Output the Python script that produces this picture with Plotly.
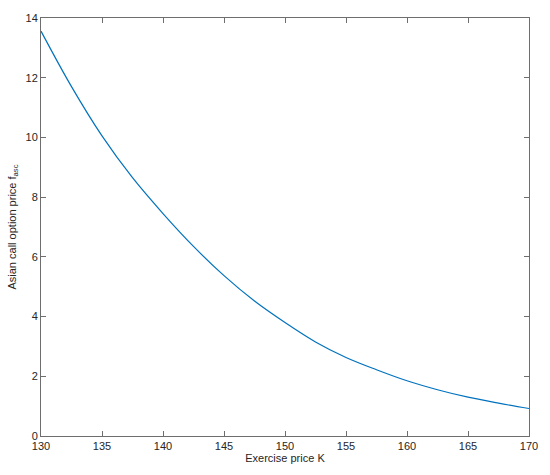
import plotly.graph_objects as go

# exercise price K and Asian call option price
strike = [130, 132.5, 135, 137.5, 140, 142.5, 145, 147.5, 150,
          152.5, 155, 157.5, 160, 162.5, 165, 167.5, 170]
price = [13.56, 11.7, 10.05, 8.65, 7.45, 6.35, 5.37, 4.52, 3.80,
         3.15, 2.63, 2.22, 1.85, 1.55, 1.30, 1.10, 0.92]

x_ticks = [130, 135, 140, 145, 150, 155, 160, 165, 170]
y_ticks = [0, 2, 4, 6, 8, 10, 12, 14]

font = dict(family="Liberation Sans, Arial", size=11, color="#262626")

fig = go.Figure()
fig.add_trace(go.Scatter(
    x=strike, y=price, mode="lines",
    line=dict(color="#0072BD", width=1.2, shape="spline"),
    showlegend=False,
))

axis_style = dict(
    showgrid=False, zeroline=False,
    showline=True, linecolor="#6e6e6e", linewidth=1, mirror="ticks",
    ticks="inside", ticklen=5, tickcolor="#6e6e6e", tickwidth=1,
    tickfont=font,
)

fig.update_xaxes(
    range=[130, 170], tickvals=x_ticks,
    title=dict(text="Exercise price K", standoff=3, font=font),
    **axis_style,
)
fig.update_yaxes(
    range=[0, 14], tickvals=y_ticks,
    title=dict(text="Asian call option price f<sub>asc</sub>", standoff=6, font=font),
    **axis_style,
)

fig.update_layout(
    width=550, height=475,
    margin=dict(l=40, r=17, t=14, b=39),
    paper_bgcolor="white", plot_bgcolor="white",
)

# drop the default body margin so the figure sits at the page corner
fig.write_html("out.html", config={"displayModeBar": False},
               post_script="document.body.style.margin='0px';")
